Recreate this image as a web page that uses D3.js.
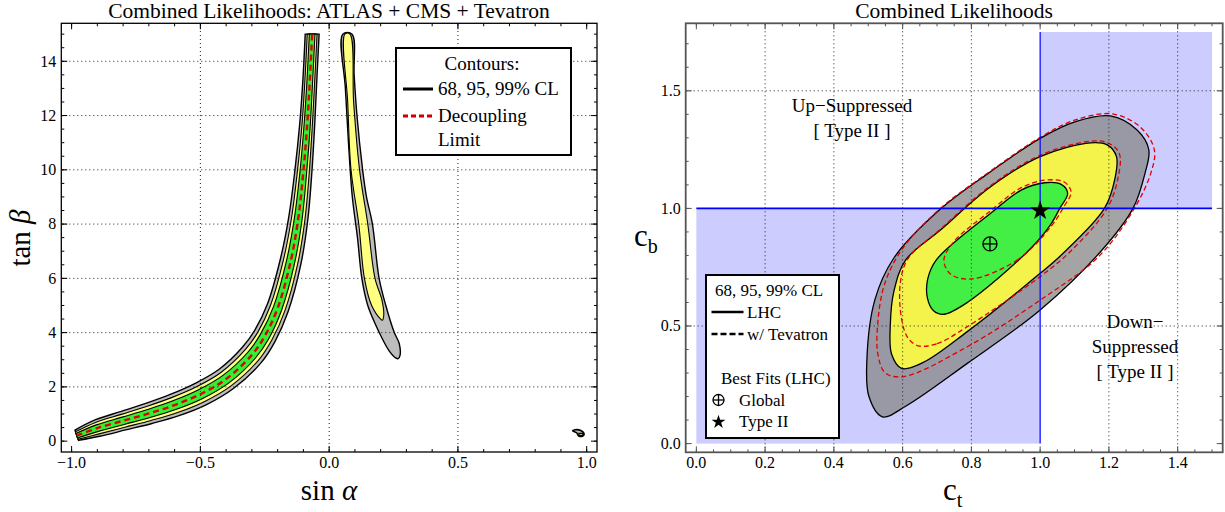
<!DOCTYPE html>
<html><head><meta charset="utf-8">
<script src="https://cdn.jsdelivr.net/npm/d3@7"></script>
<style>
html,body{margin:0;padding:0;background:#fff;}
text{font-family:'Liberation Serif','Times New Roman',serif;fill:#000;}
</style></head>
<body>
<svg id="chart" width="1225" height="512"></svg>
<script>
// ---------------- DATA: left panel (sin alpha, tan beta) ----------------
const leftXTicks = [-1.0, -0.5, 0.0, 0.5, 1.0];
const leftYTicks = [0, 2, 4, 6, 8, 10, 12, 14];
const decouplingS = [-0.98,-0.9,-0.8,-0.7,-0.6,-0.5,-0.4,-0.3,-0.25,-0.2,-0.15,-0.12,-0.1,-0.085,-0.075,-0.066];
const decouplingT = [0.2,0.48,0.75,1.02,1.33,1.73,2.29,3.18,3.87,4.9,6.6,8.2,9.95,11.7,13.3,15];
// main branch bands: upper-left edge and lower-right edge
const band99Upper = [[-0.987,0.41],[-0.909,0.781],[-0.810,1.087],[-0.712,1.389],[-0.617,1.721],[-0.522,2.122],[-0.427,2.649],[-0.336,3.467],[-0.289,4.081],[-0.240,5.042],[-0.190,6.686],[-0.157,8.249],[-0.133,9.979],[-0.114,11.721],[-0.102,13.315],[-0.093,15]];
const band99Lower = [[-0.973,0.03],[-0.891,0.179],[-0.790,0.413],[-0.688,0.651],[-0.583,0.939],[-0.478,1.338],[-0.373,1.931],[-0.264,2.893],[-0.211,3.659],[-0.160,4.758],[-0.110,6.514],[-0.083,8.151],[-0.067,9.921],[-0.056,11.679],[-0.048,13.285],[-0.039,15]];
const band95Upper = [[-0.985,0.347],[-0.907,0.691],[-0.807,0.986],[-0.709,1.278],[-0.612,1.604],[-0.515,2.004],[-0.419,2.541],[-0.325,3.381],[-0.277,4.018],[-0.228,4.999],[-0.178,6.66],[-0.146,8.234],[-0.123,9.97],[-0.105,11.715],[-0.094,13.311],[-0.085,15]];
const band95Lower = [[-0.975,0.07],[-0.893,0.269],[-0.793,0.514],[-0.691,0.762],[-0.588,1.056],[-0.485,1.456],[-0.381,2.039],[-0.275,2.979],[-0.223,3.722],[-0.172,4.801],[-0.122,6.54],[-0.094,8.166],[-0.077,9.93],[-0.065,11.685],[-0.056,13.289],[-0.047,15]];
const band68Upper = [[-0.983,0.284],[-0.904,0.6],[-0.804,0.885],[-0.705,1.168],[-0.607,1.486],[-0.509,1.887],[-0.411,2.434],[-0.314,3.295],[-0.266,3.954],[-0.216,4.957],[-0.166,6.634],[-0.135,8.22],[-0.113,9.962],[-0.097,11.708],[-0.086,13.306],[-0.077,15]];
const band68Lower = [[-0.977,0.116],[-0.896,0.36],[-0.796,0.615],[-0.695,0.872],[-0.593,1.174],[-0.491,1.573],[-0.389,2.146],[-0.286,3.065],[-0.234,3.786],[-0.184,4.843],[-0.134,6.566],[-0.105,8.18],[-0.087,9.938],[-0.073,11.692],[-0.064,13.294],[-0.055,15]];
// second branch (sin alpha > 0)
const lobe99 = [[0.053,15],[0.063,13],[0.075,11],[0.09,9],[0.11,7.5],[0.127,6],[0.15,5],[0.18,4.3],[0.205,3.8],[0.235,3.3],[0.258,3.07],[0.268,3.04],[0.275,3.15],[0.272,3.6],[0.253,4.0],[0.22,5],[0.194,6],[0.168,8],[0.145,9],[0.13,10],[0.108,12],[0.097,13.5],[0.089,15]];
const lobe95 = [[0.061,15],[0.072,12.5],[0.085,10],[0.115,8],[0.137,6],[0.165,5],[0.2,4.5],[0.207,4.46],[0.212,4.65],[0.205,5.2],[0.178,6],[0.150,8],[0.118,10],[0.095,12.5],[0.081,15]];
const blob99 = [[0.945,0.38],[0.955,0.42],[0.975,0.40],[0.99,0.26],[0.985,0.19],[0.968,0.2],[0.962,0.3]];
const blob95 = [[0.97,0.21],[0.985,0.21],[0.985,0.29],[0.97,0.29]];

// ---------------- DATA: right panel (c_t, c_b) ----------------
const rightXTicks = [0.0,0.2,0.4,0.6,0.8,1.0,1.2,1.4];
const rightYTicks = [0.0,0.5,1.0,1.5];
const lhc99 = [[0.541,0.114],[0.61,0.16],[0.788,0.341],[1.0,0.568],[1.18,0.823],[1.27,1.0],[1.305,1.149],[1.316,1.25],[1.282,1.333],[1.204,1.393],[1.103,1.369],[1.0,1.298],[0.85,1.15],[0.71,0.997],[0.574,0.788],[0.519,0.61],[0.496,0.355],[0.502,0.2]];
const lhc95 = [[0.597,0.32],[0.66,0.345],[0.788,0.476],[1.0,0.724],[1.06,0.80],[1.187,1.0],[1.218,1.13],[1.222,1.22],[1.195,1.27],[1.147,1.279],[1.0,1.22],[0.856,1.092],[0.71,0.908],[0.609,0.781],[0.575,0.65],[0.564,0.50],[0.568,0.38]];
const lhc68 = [[0.72,0.55],[0.788,0.60],[0.968,0.823],[1.03,0.93],[1.057,1.0],[1.08,1.064],[1.06,1.103],[1.013,1.109],[0.945,1.078],[0.856,0.979],[0.698,0.781],[0.673,0.70],[0.672,0.62],[0.69,0.565]];
const tev99 = [[0.603,0.285],[0.788,0.412],[1.0,0.61],[1.17,0.795],[1.27,0.99],[1.322,1.15],[1.332,1.25],[1.292,1.345],[1.21,1.402],[1.10,1.375],[1.0,1.302],[0.85,1.153],[0.71,1.0],[0.60,0.83],[0.548,0.68],[0.528,0.518],[0.528,0.38],[0.55,0.30]];
const tev95 = [[0.645,0.416],[0.70,0.425],[0.788,0.497],[1.0,0.71],[1.09,0.82],[1.195,1.0],[1.228,1.14],[1.23,1.235],[1.198,1.278],[1.147,1.286],[1.0,1.226],[0.856,1.097],[0.71,0.912],[0.615,0.785],[0.593,0.68],[0.597,0.53],[0.615,0.45]];
const tev68 = [[0.80,0.70],[0.934,0.781],[1.03,0.92],[1.069,1.007],[1.09,1.07],[1.07,1.112],[1.013,1.12],[0.945,1.088],[0.856,0.99],[0.75,0.86],[0.72,0.78],[0.74,0.72]];
const shadedLow = {ct:[0,1], cb:[0,1]};
const shadedHigh = {ct:[1,1.5], cb:[1,1.75]};
const bestGlobal = [0.854, 0.849];
const bestTypeII = [1.0, 0.99];

// ---------------- DRAWING ----------------
const svg = d3.select('#chart');
svg.append('rect').attr('width',1225).attr('height',512).attr('fill','#fff');

function frame(g, x, y, xMaj, xMin, yMaj, yMin, fx, fy, col, sw){
  const [x0,x1] = x.range(), [y0,y1] = y.range();
  const inX = v => v>=Math.min(...x.domain()) && v<=Math.max(...x.domain());
  const inY = v => v>=Math.min(...y.domain()) && v<=Math.max(...y.domain());
  const t = g.append('g').attr('stroke',col).attr('stroke-width',1);
  xMin.filter(inX).forEach(v=>{
    t.append('line').attr('x1',x(v)).attr('x2',x(v)).attr('y1',y0).attr('y2',y0-3);
    t.append('line').attr('x1',x(v)).attr('x2',x(v)).attr('y1',y1).attr('y2',y1+3);});
  xMaj.filter(inX).forEach(v=>{
    t.append('line').attr('x1',x(v)).attr('x2',x(v)).attr('y1',y0).attr('y2',y0-6);
    t.append('line').attr('x1',x(v)).attr('x2',x(v)).attr('y1',y1).attr('y2',y1+6);});
  yMin.filter(inY).forEach(v=>{
    t.append('line').attr('y1',y(v)).attr('y2',y(v)).attr('x1',x0).attr('x2',x0+3);
    t.append('line').attr('y1',y(v)).attr('y2',y(v)).attr('x1',x1).attr('x2',x1-3);});
  yMaj.filter(inY).forEach(v=>{
    t.append('line').attr('y1',y(v)).attr('y2',y(v)).attr('x1',x0).attr('x2',x0+6);
    t.append('line').attr('y1',y(v)).attr('y2',y(v)).attr('x1',x1).attr('x2',x1-6);});
  g.append('rect').attr('x',x0).attr('y',y1).attr('width',x1-x0).attr('height',y0-y1)
    .attr('fill','none').attr('stroke',col).attr('stroke-width',sw);
  xMaj.forEach(v=>g.append('text').attr('x',x(v)).attr('y',y0+16).attr('text-anchor','middle')
    .attr('font-size',16).text(fx(v)));
  yMaj.forEach(v=>g.append('text').attr('x',x0-5).attr('y',y(v)).attr('dy','0.33em').attr('text-anchor','end')
    .attr('font-size',16).text(fy(v)));
}
function grid(g, x, y, xs, ys){
  const gg = g.append('g').attr('stroke','#222').attr('stroke-width',1).attr('stroke-dasharray','1,3');
  const [x0,x1]=x.range(), [y0,y1]=y.range();
  xs.forEach(v=>gg.append('line').attr('x1',x(v)).attr('x2',x(v)).attr('y1',y0).attr('y2',y1));
  ys.forEach(v=>gg.append('line').attr('y1',y(v)).attr('y2',y(v)).attr('x1',x0).attr('x2',x1));
}
const fmt1 = v => (v<0?'\u2212':'') + Math.abs(v).toFixed(1);
const range = (a,b,s) => d3.range(Math.round(a/s), Math.round(b/s)+1).map(i=>+(i*s).toFixed(4));

// ======== LEFT PANEL ========
const xL = d3.scaleLinear().domain([-1.04,1.04]).range([61.3,597]);
const yL = d3.scaleLinear().domain([-0.4,15.4]).range([452,23.3]);
const gL = svg.append('g');
svg.append('clipPath').attr('id','clipL').append('rect').attr('x',61.3).attr('y',23.3).attr('width',597-61.3).attr('height',452-23.3);
const pL = gL.append('g').attr('clip-path','url(#clipL)');

const cr = d3.line().x(d=>xL(d[0])).y(d=>yL(d[1])).curve(d3.curveCatmullRom);
function bandPath(up, lo){
  const a = cr(up), b = cr(lo.slice().reverse());
  return a + 'L' + b.slice(1) + 'Z';
}
const crClosedL = d3.line().x(d=>xL(d[0])).y(d=>yL(d[1])).curve(d3.curveCatmullRomClosed);
const linClosedL = d3.line().x(d=>xL(d[0])).y(d=>yL(d[1])).curve(d3.curveLinearClosed);
const leftCols = {c99:'#bdbdbd', c95:'#ffff80', c68:'#33ee33'};
grid(gL, xL, yL, [-0.5,0,0.5], [2,4,6,8,10,12,14]);
pL.append('path').attr('d',bandPath(band99Upper,band99Lower)).attr('fill',leftCols.c99).attr('stroke','#000').attr('stroke-width',1.4);
pL.append('path').attr('d',bandPath(band95Upper,band95Lower)).attr('fill',leftCols.c95).attr('stroke','#000').attr('stroke-width',1.1);
pL.append('path').attr('d',bandPath(band68Upper,band68Lower)).attr('fill',leftCols.c68).attr('stroke','#000').attr('stroke-width',1.1);
pL.append('path').attr('d',crClosedL(lobe99)).attr('fill',leftCols.c99).attr('stroke','#000').attr('stroke-width',1.4);
pL.append('path').attr('d',crClosedL(lobe95)).attr('fill',leftCols.c95).attr('stroke','#000').attr('stroke-width',1.1);
pL.append('path').attr('d',crClosedL(blob99)).attr('fill',leftCols.c99).attr('stroke','#000').attr('stroke-width',1.6);
pL.append('path').attr('d',linClosedL(blob95)).attr('fill',leftCols.c95).attr('stroke','#000').attr('stroke-width',1.2);
pL.append('path').attr('d',d3.line().x((d,i)=>xL(decouplingS[i])).y((d,i)=>yL(decouplingT[i])).curve(d3.curveCatmullRom)(decouplingS))
  .attr('fill','none').attr('stroke','#e00000').attr('stroke-width',2.4).attr('stroke-dasharray','6,4');
frame(gL, xL, yL, leftXTicks, range(-1,1,0.1), leftYTicks, range(0,15,0.5), fmt1, v=>String(v), '#000', 1.3);
gL.append('text').attr('x',329).attr('y',18).attr('text-anchor','middle').attr('font-size',21.5)
  .text('Combined Likelihoods: ATLAS + CMS + Tevatron');
gL.append('text').attr('x',329).attr('y',500).attr('text-anchor','middle').attr('font-size',29)
  .html('sin <tspan font-style="italic">\u03B1</tspan>');
gL.append('text').attr('transform','translate(30,238) rotate(-90)').attr('text-anchor','middle').attr('font-size',29)
  .html('tan <tspan font-style="italic">\u03B2</tspan>');
// legend
const lg = gL.append('g');
lg.append('rect').attr('x',396).attr('y',48).attr('width',175).attr('height',107).attr('fill','#fff').attr('stroke','#000').attr('stroke-width',2);
lg.append('text').attr('x',482).attr('y',70).attr('text-anchor','middle').attr('font-size',19).text('Contours:');
lg.append('line').attr('x1',403).attr('x2',433).attr('y1',89).attr('y2',89).attr('stroke','#000').attr('stroke-width',3);
lg.append('text').attr('x',438).attr('y',95).attr('font-size',19).text('68, 95, 99% CL');
lg.append('line').attr('x1',403).attr('x2',433).attr('y1',116).attr('y2',116).attr('stroke','#cc0000').attr('stroke-width',3).attr('stroke-dasharray','5,3');
lg.append('text').attr('x',438).attr('y',122).attr('font-size',19).text('Decoupling');
lg.append('text').attr('x',438).attr('y',146).attr('font-size',19).text('Limit');

// ======== RIGHT PANEL ========
const xR = d3.scaleLinear().domain([-0.031,1.531]).range([685.7,1222.7]);
const yR = d3.scaleLinear().domain([-0.037,1.787]).range([452.3,23.3]);
const gR = svg.append('g');
svg.append('clipPath').attr('id','clipR').append('rect').attr('x',685.7).attr('y',23.3).attr('width',537).attr('height',429);
const pR = gR.append('g').attr('clip-path','url(#clipR)');
[shadedLow, shadedHigh].forEach(r=>pR.append('rect').attr('x',xR(r.ct[0])).attr('y',yR(r.cb[1]))
  .attr('width',xR(r.ct[1])-xR(r.ct[0])).attr('height',yR(r.cb[0])-yR(r.cb[1])).attr('fill','#ccccff'));
const crClosedR = d3.line().x(d=>xR(d[0])).y(d=>yR(d[1])).curve(d3.curveCatmullRomClosed);
pR.append('path').attr('d',crClosedR(lhc99)).attr('fill','#8a8a8c').attr('fill-opacity',0.78);
pR.append('path').attr('d',crClosedR(lhc95)).attr('fill','#ffff40').attr('fill-opacity',0.88);
pR.append('path').attr('d',crClosedR(lhc68)).attr('fill','#30ee45').attr('fill-opacity',0.9);
grid(gR, xR, yR, [0.2,0.4,0.6,0.8,1.2,1.4], [0.5,1.5]);
[lhc99,lhc95,lhc68].forEach(c=>pR.append('path').attr('d',crClosedR(c)).attr('fill','none').attr('stroke','#000').attr('stroke-width',1.3));
[tev99,tev95,tev68].forEach(c=>pR.append('path').attr('d',crClosedR(c)).attr('fill','none').attr('stroke','#e00000').attr('stroke-width',1.3).attr('stroke-dasharray','5,3'));
// blue lines
gR.append('line').attr('x1',xR(1)).attr('x2',xR(1)).attr('y1',yR(0)).attr('y2',yR(1.75)).attr('stroke','#0000ff').attr('stroke-width',1.2);
gR.append('line').attr('x1',xR(0)).attr('x2',xR(1.5)).attr('y1',yR(1)).attr('y2',yR(1)).attr('stroke','#0000ff').attr('stroke-width',1.6);
function oplus(g, cx, cy, r){
  g.append('circle').attr('cx',cx).attr('cy',cy).attr('r',r).attr('fill','none').attr('stroke','#000').attr('stroke-width',1.3);
  g.append('line').attr('x1',cx-r).attr('x2',cx+r).attr('y1',cy).attr('y2',cy).attr('stroke','#000').attr('stroke-width',1.3);
  g.append('line').attr('x1',cx).attr('x2',cx).attr('y1',cy-r).attr('y2',cy+r).attr('stroke','#000').attr('stroke-width',1.3);
}
function star(g, cx, cy, size){
  g.append('path').attr('d',d3.symbol().type(d3.symbolStar).size(size)()).attr('transform',`translate(${cx},${cy})`).attr('fill','#000');
}
oplus(gR, xR(bestGlobal[0]), yR(bestGlobal[1]), 7);
star(gR, xR(bestTypeII[0]), yR(bestTypeII[1]), 120);
frame(gR, xR, yR, rightXTicks, range(0,1.5,0.05), rightYTicks, range(0,1.7,0.1), v=>v.toFixed(1), v=>v.toFixed(1), '#555', 1.8);
gR.append('text').attr('x',954).attr('y',18).attr('text-anchor','middle').attr('font-size',21.5).text('Combined Likelihoods');
gR.append('text').attr('x',943).attr('y',500).attr('font-size',31).html('c<tspan font-size="20" dy="7">t</tspan>');
gR.append('text').attr('x',634).attr('y',246).attr('font-size',31).html('c<tspan font-size="20" dy="7">b</tspan>');
// annotations
const ann = gR.append('g').attr('font-size',19).attr('text-anchor','middle');
ann.append('text').attr('x',852).attr('y',112).text('Up\u2212Suppressed');
ann.append('text').attr('x',852).attr('y',137).text('[ Type II ]');
ann.append('text').attr('x',1135).attr('y',328).text('Down\u2212');
ann.append('text').attr('x',1135).attr('y',353).text('Suppressed');
ann.append('text').attr('x',1135).attr('y',378).text('[ Type II ]');
// legend
const rg = gR.append('g');
rg.append('rect').attr('x',706).attr('y',275).attr('width',133).attr('height',163).attr('fill','#fff').attr('stroke','#000').attr('stroke-width',2);
rg.append('text').attr('x',715).attr('y',296).attr('font-size',17).text('68, 95, 99% CL');
rg.append('line').attr('x1',711.5).attr('x2',743.5).attr('y1',312).attr('y2',312).attr('stroke','#000').attr('stroke-width',2.5);
rg.append('text').attr('x',747).attr('y',318).attr('font-size',17).text('LHC');
rg.append('line').attr('x1',711.5).attr('x2',743.5).attr('y1',334).attr('y2',334).attr('stroke','#000').attr('stroke-width',2.5).attr('stroke-dasharray','6,3');
rg.append('text').attr('x',747).attr('y',340).attr('font-size',17).text('w/ Tevatron');
rg.append('text').attr('x',721).attr('y',384).attr('font-size',17).text('Best Fits (LHC)');
oplus(rg, 718.5, 400, 5.5);
rg.append('text').attr('x',739).attr('y',406).attr('font-size',17).text('Global');
star(rg, 718.5, 422, 60);
rg.append('text').attr('x',739).attr('y',427).attr('font-size',17).text('Type II');
</script>
</body></html>
